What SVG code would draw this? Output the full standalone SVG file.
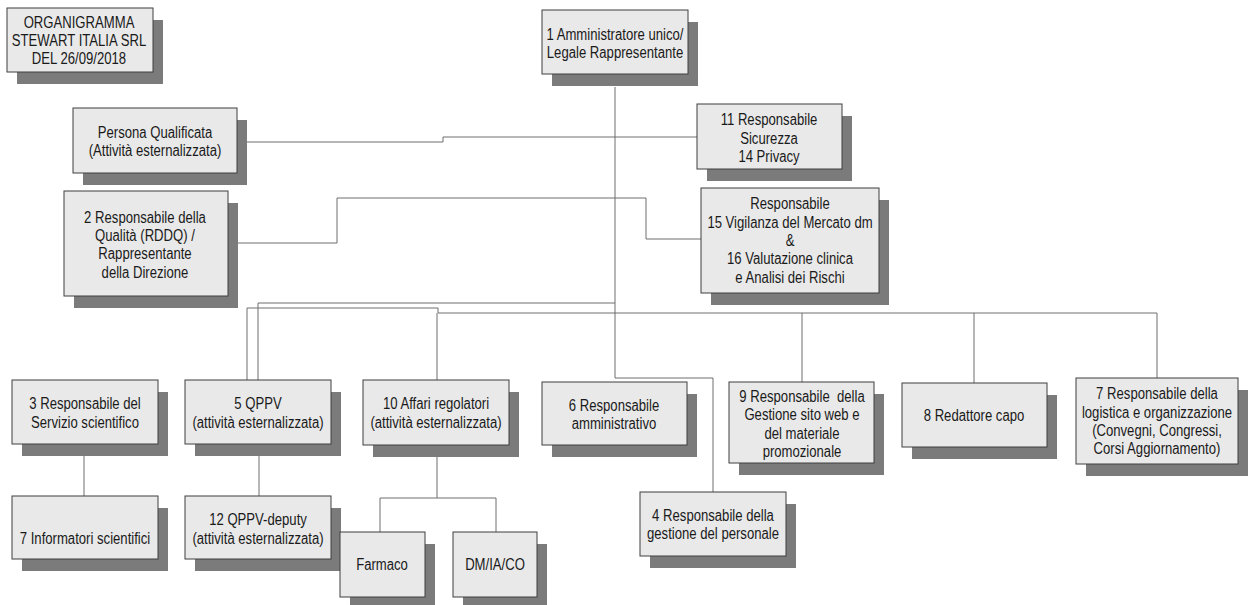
<svg xmlns="http://www.w3.org/2000/svg" width="1248" height="605" viewBox="0 0 1248 605">
<style>
.sh{fill:#7b7b7b}
.bx{fill:#e9e9e9;stroke:#3f3f3f;stroke-width:1}
.t{font-family:"Liberation Sans",Arial,sans-serif;font-size:16px;fill:#1a1a1a;text-anchor:middle}
.c{fill:none;stroke:#6f6f6f;stroke-width:1}
</style>
<rect width="1248" height="605" fill="#fff"/>
<g id="connectors">
<path class="c" d="M615 87 V378 H713 V492"/>
<path class="c" d="M247 142 H443 V137 H697"/>
<path class="c" d="M237 243 H337 V198 H646 V239 H701"/>
<path class="c" d="M258 380 V303 H615"/>
<path class="c" d="M247 380 V308 H438 V313 H1157 V378"/>
<path class="c" d="M437 313 V380"/>
<path class="c" d="M802 313 V382"/>
<path class="c" d="M974 313 V383"/>
<path class="c" d="M84 456 V496"/>
<path class="c" d="M259 456 V496"/>
<path class="c" d="M437 457 V498 M380 532 V498 H496 V532"/>
</g>
<g id="title">
<rect class="sh" x="17" y="20" width="146" height="64"/>
<rect class="bx" x="7" y="8" width="146" height="64"/>
<text class="t" transform="translate(79 0) scale(0.82 1)"><tspan x="0" y="28">ORGANIGRAMMA</tspan><tspan x="0" y="46">STEWART ITALIA SRL</tspan><tspan x="0" y="64">DEL 26/09/2018</tspan></text>
</g>
<g id="n1">
<rect class="sh" x="552" y="22" width="146" height="64"/>
<rect class="bx" x="542" y="10" width="146" height="64"/>
<text class="t" transform="translate(615 0) scale(0.82 1)"><tspan x="0" y="40">1 Amministratore unico/</tspan><tspan x="0" y="58">Legale Rappresentante</tspan></text>
</g>
<g id="persona">
<rect class="sh" x="83" y="120" width="164" height="65"/>
<rect class="bx" x="73" y="108" width="164" height="65"/>
<text class="t" transform="translate(155 0) scale(0.82 1)"><tspan x="0" y="138">Persona Qualificata</tspan><tspan x="0" y="156">(Attività esternalizzata)</tspan></text>
</g>
<g id="n2">
<rect class="sh" x="74" y="203" width="164" height="105"/>
<rect class="bx" x="64" y="191" width="164" height="105"/>
<text class="t" transform="translate(145 0) scale(0.82 1)"><tspan x="0" y="223">2 Responsabile della</tspan><tspan x="0" y="241">Qualità (RDDQ) /</tspan><tspan x="0" y="259">Rappresentante</tspan><tspan x="0" y="278">della Direzione</tspan></text>
</g>
<g id="n11">
<rect class="sh" x="707" y="116" width="145" height="65"/>
<rect class="bx" x="697" y="104" width="145" height="65"/>
<text class="t" transform="translate(769 0) scale(0.82 1)"><tspan x="0" y="125">11 Responsabile</tspan><tspan x="0" y="144">Sicurezza</tspan><tspan x="0" y="162">14 Privacy</tspan></text>
</g>
<g id="n15">
<rect class="sh" x="711" y="200" width="178" height="105"/>
<rect class="bx" x="701" y="188" width="178" height="105"/>
<text class="t" transform="translate(790 0) scale(0.82 1)"><tspan x="0" y="209">Responsabile</tspan><tspan x="0" y="228">15 Vigilanza del Mercato dm</tspan><tspan x="0" y="246">&amp;</tspan><tspan x="0" y="264">16 Valutazione clinica</tspan><tspan x="0" y="283">e Analisi dei Rischi</tspan></text>
</g>
<g id="n3">
<rect class="sh" x="22" y="392" width="146" height="64"/>
<rect class="bx" x="12" y="380" width="146" height="64"/>
<text class="t" transform="translate(85 0) scale(0.82 1)"><tspan x="0" y="409">3 Responsabile del</tspan><tspan x="0" y="428">Servizio scientifico</tspan></text>
</g>
<g id="n5">
<rect class="sh" x="195" y="392" width="146" height="64"/>
<rect class="bx" x="185" y="380" width="146" height="64"/>
<text class="t" transform="translate(258 0) scale(0.82 1)"><tspan x="0" y="409">5 QPPV</tspan><tspan x="0" y="428">(attività esternalizzata)</tspan></text>
</g>
<g id="n10">
<rect class="sh" x="373" y="392" width="146" height="65"/>
<rect class="bx" x="363" y="380" width="146" height="65"/>
<text class="t" transform="translate(436 0) scale(0.82 1)"><tspan x="0" y="409">10 Affari regolatori</tspan><tspan x="0" y="428">(attività esternalizzata)</tspan></text>
</g>
<g id="n7i">
<rect class="sh" x="22" y="508" width="146" height="63"/>
<rect class="bx" x="12" y="496" width="146" height="63"/>
<text class="t" transform="translate(85 0) scale(0.82 1)"><tspan x="0" y="544">7 Informatori scientifici</tspan></text>
</g>
<g id="n12">
<rect class="sh" x="195" y="508" width="146" height="63"/>
<rect class="bx" x="185" y="496" width="146" height="63"/>
<text class="t" transform="translate(258 0) scale(0.82 1)"><tspan x="0" y="525">12 QPPV-deputy</tspan><tspan x="0" y="544">(attività esternalizzata)</tspan></text>
</g>
<g id="farmaco">
<rect class="sh" x="350" y="544" width="85" height="65"/>
<rect class="bx" x="340" y="532" width="85" height="65"/>
<text class="t" transform="translate(382 0) scale(0.82 1)"><tspan x="0" y="570">Farmaco</tspan></text>
</g>
<g id="dm">
<rect class="sh" x="463" y="544" width="84" height="65"/>
<rect class="bx" x="453" y="532" width="84" height="65"/>
<text class="t" transform="translate(495 0) scale(0.82 1)"><tspan x="0" y="570">DM/IA/CO</tspan></text>
</g>
<g id="n6">
<rect class="sh" x="552" y="394" width="145" height="63"/>
<rect class="bx" x="542" y="382" width="145" height="63"/>
<text class="t" transform="translate(614 0) scale(0.82 1)"><tspan x="0" y="411">6 Responsabile</tspan><tspan x="0" y="429">amministrativo</tspan></text>
</g>
<g id="n9">
<rect class="sh" x="739" y="394" width="145" height="81"/>
<rect class="bx" x="729" y="382" width="145" height="81"/>
<text class="t" transform="translate(802 0) scale(0.82 1)" xml:space="preserve"><tspan x="0" y="402">9 Responsabile  della</tspan><tspan x="0" y="420">Gestione sito web e</tspan><tspan x="0" y="439">del materiale</tspan><tspan x="0" y="457">promozionale</tspan></text>
</g>
<g id="n8">
<rect class="sh" x="912" y="395" width="145" height="64"/>
<rect class="bx" x="902" y="383" width="145" height="64"/>
<text class="t" transform="translate(974 0) scale(0.82 1)"><tspan x="0" y="421">8 Redattore capo</tspan></text>
</g>
<g id="n7l">
<rect class="sh" x="1086" y="390" width="162" height="86"/>
<rect class="bx" x="1076" y="378" width="162" height="86"/>
<text class="t" transform="translate(1157 0) scale(0.82 1)"><tspan x="0" y="399">7 Responsabile della</tspan><tspan x="0" y="418">logistica e organizzazione</tspan><tspan x="0" y="436">(Convegni, Congressi,</tspan><tspan x="0" y="454">Corsi Aggiornamento)</tspan></text>
</g>
<g id="n4">
<rect class="sh" x="650" y="504" width="146" height="64"/>
<rect class="bx" x="640" y="492" width="146" height="64"/>
<text class="t" transform="translate(713 0) scale(0.82 1)"><tspan x="0" y="521">4 Responsabile della</tspan><tspan x="0" y="539">gestione del personale</tspan></text>
</g>
</svg>
